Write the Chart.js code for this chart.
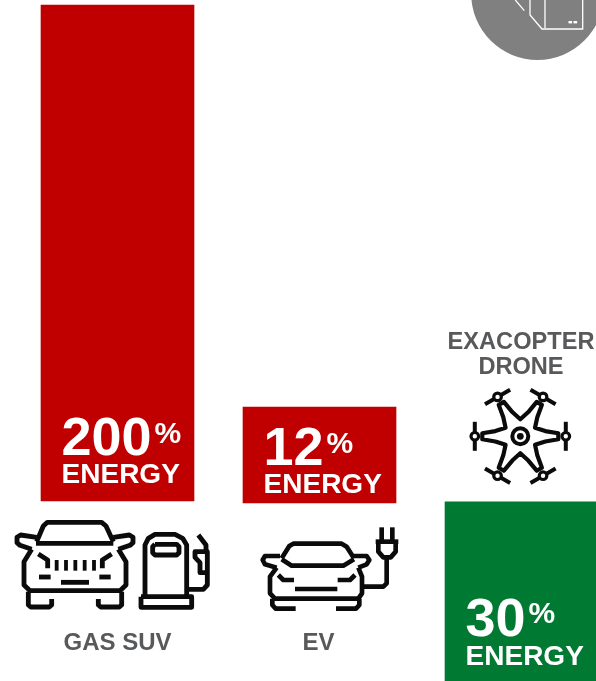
<!DOCTYPE html>
<html>
<head>
<meta charset="utf-8">
<title>Energy by vehicle</title>
<style>
  html, body { margin: 0; padding: 0; background: #fff; overflow: hidden; }
  canvas { display: block; }
</style>
<script src="https://cdn.jsdelivr.net/npm/chart.js@4"></script>
</head>
<body>
<canvas id="energyChart" width="596" height="681"></canvas>
<script>
// Chart values
const categories = ['GAS SUV', 'EV', 'EXACOPTER DRONE'];
const categoryIndex = [0, 1, 2];
const energyPercent = [200, 12, 30];
// the bars in the picture float and are not to scale with their labels
const barTop = [200, 37.9, -0.4];
const barBottom = [0, -0.8, -72.6];
const barColors = ['#c00000', '#c00000', '#007a33'];
const energyWord = 'ENERGY';

const textGray = '#58595b';
const boldFont = size => `bold ${size}px "Liberation Sans", Arial, sans-serif`;

// Draws strokes given in 3x coordinates, relative to an origin
function strokeIcon(ctx, originX, originY, lineWidth, lines) {
  ctx.save();
  ctx.translate(originX, originY);
  ctx.scale(1 / 3, 1 / 3);
  ctx.strokeStyle = '#0b0b0b';
  ctx.lineWidth = lineWidth;
  ctx.lineJoin = 'round';
  ctx.lineCap = 'butt';
  lines.forEach(points => {
    ctx.beginPath();
    points.forEach((p, i) => (i ? ctx.lineTo(p[0], p[1]) : ctx.moveTo(p[0], p[1])));
    ctx.stroke();
  });
  ctx.restore();
}

const suvIcon = [
  [[110, 125], [130, 78], [142, 67], [305, 67], [318, 78], [340, 125]],
  [[108, 130], [340, 130]],
  [[110, 112], [62, 105], [51, 112], [51, 128], [60, 136], [95, 148]],
  [[340, 112], [388, 105], [399, 112], [399, 128], [390, 136], [355, 148]],
  [[95, 148], [72, 185], [72, 255], [90, 272], [360, 272], [378, 255], [378, 185], [355, 148]],
  [[85, 275], [85, 315], [92, 321], [148, 321], [155, 315], [155, 297]],
  [[295, 297], [295, 315], [302, 321], [358, 321], [365, 315], [365, 275]],
  [[115, 162], [143, 180], [143, 205]],
  [[335, 162], [307, 180], [307, 205]],
  [[117, 231], [152, 231]],
  [[298, 231], [332, 231]],
  [[183, 247], [267, 247]]
];
const suvGrille = [
  [[170, 180], [170, 212]],
  [[198, 180], [198, 212]],
  [[226, 180], [226, 212]],
  [[254, 180], [254, 212]],
  [[282, 180], [282, 212]]
];
const pumpIcon = [
  [[423, 290], [575, 290], [575, 322], [423, 322], [423, 290]],
  [[435, 290], [435, 135], [445, 115], [465, 103], [525, 103], [548, 115], [560, 135], [560, 290]],
  [[465, 133], [530, 133], [537, 140], [537, 158], [530, 165], [465, 165], [458, 158], [458, 140], [465, 133]],
  [[560, 268], [610, 268], [622, 255], [622, 155], [585, 155], [585, 172], [600, 188], [600, 218], [622, 218]],
  [[595, 105], [618, 135], [618, 155]]
];
const evIcon = [
  [[155, 175], [178, 138], [190, 131], [335, 131], [350, 140], [372, 175]],
  [[155, 178], [185, 197], [340, 197], [372, 178]],
  [[150, 168], [105, 168], [98, 180], [105, 193], [140, 203]],
  [[372, 168], [410, 168], [418, 180], [410, 193], [385, 203]],
  [[140, 203], [120, 230], [120, 280], [135, 296], [385, 296], [396, 280], [396, 230], [385, 203]],
  [[127, 296], [127, 315], [137, 326], [197, 326]],
  [[318, 326], [378, 326], [388, 315], [388, 296]],
  [[145, 225], [160, 240], [192, 240]],
  [[375, 225], [360, 240], [323, 240]],
  [[195, 267], [322, 267]],
  [[396, 260], [460, 260], [470, 250], [470, 172]],
  [[437, 125], [505, 125]],
  [[445, 125], [445, 155], [460, 172], [482, 172], [497, 155], [497, 125]],
  [[455, 82], [455, 122]],
  [[487, 82], [487, 122]]
];
const boxLines = [
  [[515.3, 0], [524.3, 10.7]],
  [[530, 0], [530, 15], [542, 29], [582.7, 29], [582.7, 0]],
  [[545, 0], [545, 28]]
];

function drawDrone(ctx) {
  const cx = 520.3, cy = 436.3;
  const dark = '#0b0b0b';
  ctx.save();
  ctx.translate(cx, cy);
  ctx.strokeStyle = dark;
  ctx.lineJoin = 'round';

  // star outline with six arms
  ctx.lineWidth = 4.2;
  ctx.beginPath();
  for (let i = 0; i < 6; i++) {
    const a = i * Math.PI / 3;
    const at = (r, side) => [
      Math.cos(a) * r - Math.sin(a) * side,
      Math.sin(a) * r + Math.cos(a) * side
    ];
    const points = [at(25, -5.2), at(38, -3), at(38, 3), at(25, 5.2)];
    points.forEach((p, k) => (i === 0 && k === 0 ? ctx.moveTo(p[0], p[1]) : ctx.lineTo(p[0], p[1])));
    const mid = a + Math.PI / 6;
    ctx.lineTo(Math.cos(mid) * 17, Math.sin(mid) * 17);
  }
  ctx.closePath();
  ctx.stroke();

  // hub
  ctx.lineWidth = 4;
  ctx.beginPath();
  ctx.arc(0, 0, 8, 0, Math.PI * 2);
  ctx.stroke();
  ctx.fillStyle = dark;
  ctx.beginPath();
  ctx.arc(0, 0, 3.4, 0, Math.PI * 2);
  ctx.fill();

  // rotors with blades
  for (let i = 0; i < 6; i++) {
    const a = i * Math.PI / 3;
    const x = Math.cos(a) * 45.5, y = Math.sin(a) * 45.5;
    const bx = -Math.sin(a), by = Math.cos(a);
    ctx.lineWidth = 4;
    ctx.beginPath();
    ctx.moveTo(x - bx * 14.5, y - by * 14.5);
    ctx.lineTo(x + bx * 14.5, y + by * 14.5);
    ctx.stroke();
    ctx.fillStyle = '#fff';
    ctx.lineWidth = 3.2;
    ctx.beginPath();
    ctx.arc(x, y, 3.8, 0, Math.PI * 2);
    ctx.fill();
    ctx.stroke();
  }
  ctx.restore();
}

const pictures = {
  id: 'pictures',
  afterDatasetsDraw(chart) {
    const ctx = chart.ctx;
    // gray badge cut by the top of the picture
    ctx.save();
    ctx.fillStyle = '#808080';
    ctx.beginPath();
    ctx.arc(537.5, -6.3, 66.3, 0, Math.PI * 2);
    ctx.fill();
    ctx.strokeStyle = '#fff';
    ctx.lineWidth = 1.3;
    boxLines.forEach(points => {
      ctx.beginPath();
      points.forEach((p, i) => (i ? ctx.lineTo(p[0], p[1]) : ctx.moveTo(p[0], p[1])));
      ctx.stroke();
    });
    ctx.fillStyle = '#fff';
    ctx.fillRect(568.5, 21, 3.6, 2.4);
    ctx.fillRect(573.5, 21, 3.6, 2.4);
    ctx.restore();

    strokeIcon(ctx, 0, 500, 14.5, suvIcon);
    strokeIcon(ctx, 0, 500, 11.5, suvGrille);
    strokeIcon(ctx, 0, 500, 14.5, pumpIcon);
    strokeIcon(ctx, 230, 500, 14, evIcon);
    drawDrone(ctx);
  }
};

const barLabels = {
  id: 'barLabels',
  afterDraw(chart) {
    const ctx = chart.ctx;
    const x = chart.scales.x;
    const baselineAboveBottom = [18, 10, 16];
    const numberGap = [27.5, 27.5, 29.5];
    ctx.save();
    ctx.textBaseline = 'alphabetic';
    categoryIndex.forEach(i => {
      const center = x.getPixelForValue(i);
      const y = chart.scales.y.getPixelForValue(barBottom[i]) - baselineAboveBottom[i];
      const number = String(energyPercent[i]);
      ctx.fillStyle = '#fff';
      ctx.textAlign = 'center';
      ctx.font = boldFont(28);
      ctx.fillText(energyWord, center + 3.2, y);
      ctx.textAlign = 'left';
      ctx.font = boldFont(54);
      const width = ctx.measureText(number).width;
      const left = center - 56;
      ctx.fillText(number, left, y - numberGap[i]);
      ctx.font = boldFont(30);
      ctx.fillText('%', left + width + 3, y - numberGap[i] - 12.5);
    });

    // category names, the drone's stands above its icon
    ctx.fillStyle = textGray;
    ctx.textAlign = 'center';
    ctx.font = boldFont(24);
    ctx.fillText(categories[0], x.getPixelForValue(0), 650);
    ctx.fillText(categories[1], x.getPixelForValue(1) - 1, 650);
    ctx.font = boldFont(23.6);
    const droneWords = categories[2].split(' ');
    ctx.fillText(droneWords[0], x.getPixelForValue(2) - 0.5, 348.5);
    ctx.fillText(droneWords[1], x.getPixelForValue(2) - 0.5, 374);
    ctx.restore();
  }
};

new Chart(document.getElementById('energyChart').getContext('2d'), {
  type: 'bar',
  data: {
    labels: categories,
    datasets: [{
      data: categoryIndex.map(i => ({ x: i, y: [barBottom[i], barTop[i]] })),
      backgroundColor: barColors,
      borderWidth: 0,
      barThickness: 153
    }]
  },
  options: {
    responsive: false,
    animation: false,
    layout: { padding: 0 },
    plugins: { legend: { display: false }, tooltip: { enabled: false } },
    scales: {
      x: { type: 'linear', offset: false, display: false, min: -0.5817, max: 2.3688 },
      y: { display: false, min: -72.6, max: 202 }
    }
  },
  plugins: [pictures, barLabels]
});
</script>
</body>
</html>
